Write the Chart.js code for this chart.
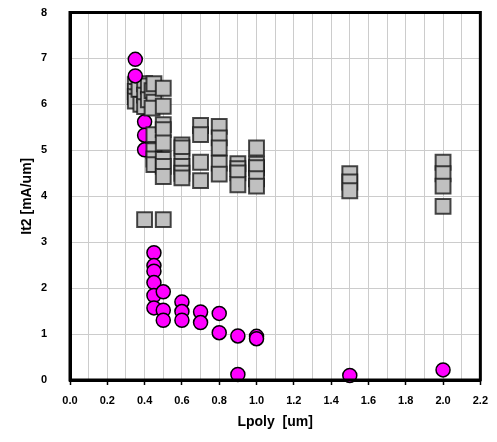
<!DOCTYPE html>
<html>
<head>
<meta charset="utf-8">
<script src="https://cdn.jsdelivr.net/npm/chart.js@4/dist/chart.umd.min.js"></script>
<style>
  html, body { margin: 0; padding: 0; background: #fff; }
  #wrap { width: 497px; height: 442px; position: relative; }
</style>
</head>
<body>
<div id="wrap"><canvas id="c" width="497" height="442"></canvas></div>
<script>
// ---- data ----
// Gray squares, drawn under the magenta circles (short Lpoly)
const squaresA_x = [0.35, 0.35, 0.35, 0.35, 0.37, 0.38, 0.40, 0.40, 0.40, 0.42, 0.42, 0.40];
const squaresA_y = [6.43, 6.28, 6.17, 6.07, 6.33, 6.00, 6.45, 6.20, 5.95, 6.40, 6.10, 3.49];
// Magenta circles
const circles_x = [0.35, 0.35, 0.40, 0.40, 0.40, 0.45, 0.45, 0.45, 0.45, 0.45, 0.45, 0.50, 0.50, 0.50, 0.60, 0.60, 0.60, 0.70, 0.70, 0.80, 0.80, 0.90, 0.90, 1.00, 1.00, 1.50, 2.00];
const circles_y = [6.98, 6.62, 5.62, 5.33, 5.01, 2.77, 2.49, 2.37, 2.12, 1.84, 1.57, 1.92, 1.52, 1.30, 1.70, 1.49, 1.30, 1.48, 1.25, 1.45, 1.03, 0.96, 0.12, 0.95, 0.90, 0.10, 0.22];
// Gray squares, drawn over the circles
const squaresB_x = [0.44, 0.45, 0.45, 0.44, 0.45, 0.45, 0.45, 0.45, 0.50, 0.50, 0.50, 0.50, 0.50, 0.50, 0.50, 0.50, 0.50,
                    0.60, 0.60, 0.60, 0.60, 0.60, 0.60, 0.70, 0.70, 0.70, 0.70, 0.80, 0.80, 0.80, 0.80, 0.80,
                    0.90, 0.90, 0.90, 0.90, 1.00, 1.00, 1.00, 1.00, 1.00, 1.50, 1.50, 1.50, 2.00, 2.00, 2.00, 2.00];
const squaresB_y = [6.30, 6.45, 6.05, 5.92, 5.34, 4.99, 4.81, 4.69, 6.35, 5.96, 5.56, 5.45, 5.16, 4.80, 4.65, 4.43, 3.49,
                    5.12, 5.05, 4.76, 4.65, 4.50, 4.40, 5.54, 5.34, 4.74, 4.34, 5.52, 5.27, 5.05, 4.72, 4.48,
                    4.71, 4.60, 4.51, 4.25, 5.05, 4.70, 4.62, 4.38, 4.22, 4.49, 4.31, 4.12, 4.74, 4.49, 4.22, 3.78];
const xTicks = { min: 0, max: 2.2, step: 0.1 };
const yTicks = { min: 0, max: 8, step: 1 };
const xTitle = 'Lpoly  [um]';
const yTitle = 'It2 [mA/um]';

const pts = (xs, ys) => xs.map((x, i) => ({ x: x, y: ys[i] }));

const squareStyle = {
  pointStyle: 'rect',
  pointRadius: 10.5,
  pointHoverRadius: 10.5,
  backgroundColor: '#c0c0c0',
  borderColor: 'rgba(20,20,20,0.78)',
  borderWidth: 2,
  showLine: false
};

const framePlugin = {
  id: 'frame',
  afterDatasetsDraw(chart) {
    const a = chart.chartArea, ctx = chart.ctx;
    ctx.save();
    ctx.strokeStyle = '#000';
    ctx.lineWidth = 3;
    ctx.strokeRect(a.left, a.top, a.right - a.left, a.bottom - a.top);
    ctx.restore();
  }
};

const tickFont = { family: '"Liberation Sans", Arial, sans-serif', size: 11, weight: 'bold' };
const titleFont = { family: '"Liberation Sans", Arial, sans-serif', size: 14, weight: 'bold' };

new Chart(document.getElementById('c'), {
  type: 'scatter',
  data: {
    datasets: [
      // Chart.js draws the first dataset on top
      Object.assign({ label: 'squaresB', data: pts(squaresB_x, squaresB_y) }, squareStyle),
      {
        label: 'circles',
        data: pts(circles_x, circles_y),
        pointStyle: 'circle',
        pointRadius: 7,
        pointHoverRadius: 7,
        backgroundColor: '#ff00ff',
        borderColor: '#000',
        borderWidth: 1.5,
        showLine: false
      },
      Object.assign({ label: 'squaresA', data: pts(squaresA_x, squaresA_y) }, squareStyle)
    ]
  },
  options: {
    responsive: false,
    animation: false,
    events: [],
    clip: false,
    layout: { padding: { left: 0, right: 15, top: 0, bottom: 0 } },
    plugins: { legend: { display: false }, tooltip: { enabled: false } },
    scales: {
      x: {
        type: 'linear',
        min: xTicks.min, max: xTicks.max,
        afterFit(s) { s.height = 62; },
        ticks: {
          stepSize: xTicks.step,
          autoSkip: false,
          maxRotation: 0,
          color: '#000',
          font: tickFont,
          padding: 9,
          callback(v) {
            const k = Math.round(v * 10);
            return k % 2 === 0 ? (k / 10).toFixed(1) : '';
          }
        },
        grid: {
          color: '#cccccc',
          lineWidth: 1,
          drawTicks: true,
          tickLength: 5,
          tickColor(ctx) {
            const k = Math.round(ctx.tick.value * 10);
            return k % 2 === 0 ? '#000' : 'rgba(0,0,0,0)';
          },
          tickWidth: 1.5
        },
        border: { color: '#000', width: 3 },
        title: { display: true, text: xTitle, color: '#000', font: titleFont, padding: { top: 0, bottom: 11 } }
      },
      y: {
        type: 'linear',
        min: yTicks.min, max: yTicks.max,
        afterFit(s) { s.width = 70; },
        ticks: {
          stepSize: yTicks.step,
          color: '#000',
          font: tickFont,
          padding: 3
        },
        grid: { color: '#cccccc', lineWidth: 1, drawTicks: true, tickLength: 20, tickColor: 'rgba(0,0,0,0)' },
        border: { color: '#000', width: 3 },
        title: { display: true, text: yTitle, color: '#000', font: titleFont, padding: { top: 19, bottom: 0 } }
      }
    }
  },
  plugins: [framePlugin]
});
</script>
</body>
</html>
